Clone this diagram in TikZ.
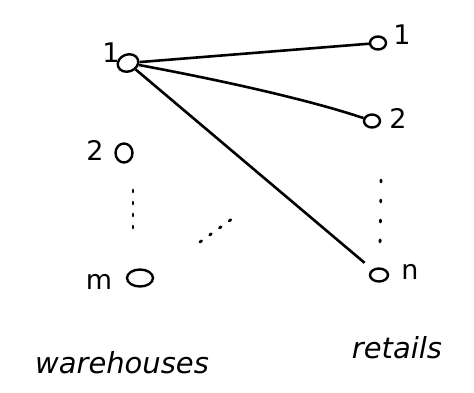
\documentclass[tikz,border=0pt]{standalone}
\usepackage{fontspec}
\setmainfont{DejaVu Sans}
\usetikzlibrary{shapes.geometric}
\begin{document}
\begin{tikzpicture}[x=1pt,y=-1pt,
  vert/.style={ellipse,draw,line width=2.4pt,minimum width=16pt,minimum height=13pt,inner sep=0pt},
  lbl/.style={font=\fontsize{27}{30}\selectfont,inner sep=0pt},
  big/.style={font=\fontsize{29}{32}\selectfont\itshape,inner sep=0pt},
  edge/.style={line width=2.6pt},
  dotsline/.style={line width=2.8pt,dash pattern=on 2pt off 10pt,line cap=round}]
\useasboundingbox (0,0) rectangle (474,393);
\node[vert,minimum width=21pt,minimum height=17pt,rotate=20] (w1) at (128,63) {};
\node[vert,minimum width=17pt,minimum height=19pt] (w2) at (124,153) {};
\node[vert,minimum width=26pt,minimum height=17pt] (wm) at (140,278) {};
\node[vert] (r1) at (378,43) {};
\node[vert] (r2) at (372,121) {};
\node[vert,minimum width=18pt] (rn) at (379,275) {};
\node[lbl] (lw1) at (111,53) {1};
\node[lbl] (lw2) at (95,150) {2};
\node[lbl] (lwm) at (99,282) {m};
\node[lbl] (lr1) at (402,35) {1};
\node[lbl] (lr2) at (398,118) {2};
\node[lbl] (lrn) at (410,272) {n};
\node[big] (wh) at (122,363) {warehouses};
\node[big] (rt) at (397,348) {retails};
\draw[edge] (w1) -- (r1);
\draw[edge] (w1) .. controls (220,80) and (310,100) .. (r2);
\draw[edge,shorten >=10pt] (w1) -- (rn);
\coordinate (a1) at (133,190);
\coordinate (a2) at (133,232);
\coordinate (b1) at (200,242);
\coordinate (b2) at (236,216);
\coordinate (c1) at (381,180);
\coordinate (c2) at (380,248);
\draw[dotsline] (a1) -- (a2);
\draw[dotsline] (b1) -- (b2);
\draw[dotsline,dash pattern=on 2pt off 18pt] (c1) -- (c2);
\end{tikzpicture}
\end{document}
